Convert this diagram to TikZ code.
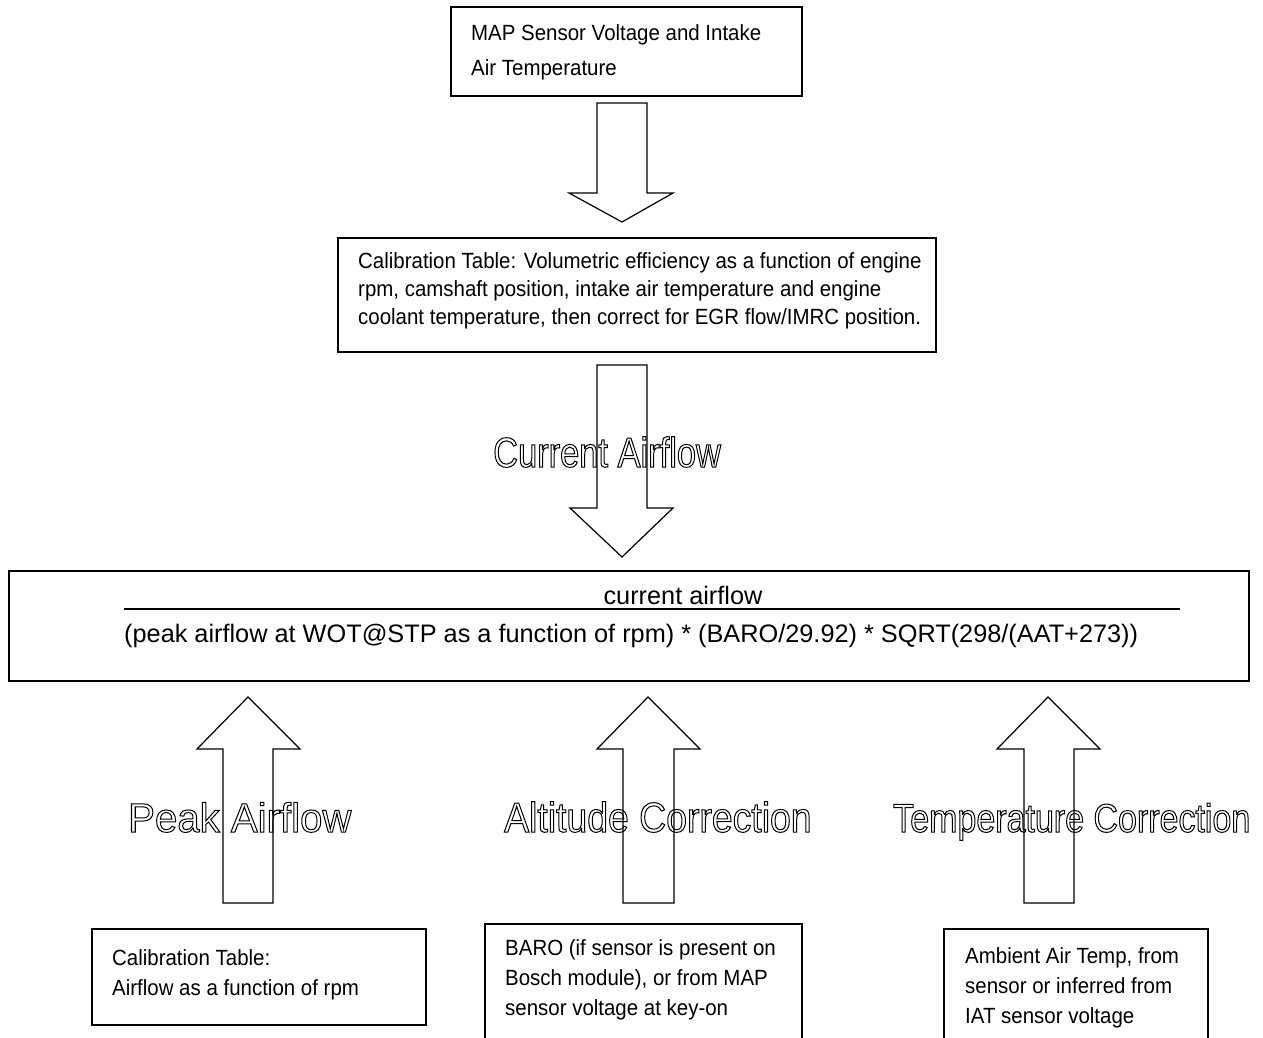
\documentclass[tikz,border=0pt]{standalone}
\usepackage{fontspec}
\setmainfont{Liberation Sans}
\newfontfamily\boxfont[FakeStretch=0.93]{Liberation Sans}
\newfontfamily\curfont[FakeStretch=0.82]{Liberation Sans}
\newfontfamily\peakfont[FakeStretch=0.98]{Liberation Sans}
\newfontfamily\altfont[FakeStretch=0.89]{Liberation Sans}
\newfontfamily\tempfont[FakeStretch=0.85]{Liberation Sans}
\newcommand{\outl}[1]{\special{pdf:literal direct 1 Tr 1.0 w}#1\special{pdf:literal direct 0 Tr}}
\begin{document}
\begin{tikzpicture}[x=1pt,y=-1pt,
  box/.style={draw=black, line width=1.8pt, inner sep=0pt, anchor=north west},
  boxtext/.style={anchor=north west, inner sep=0pt, align=left},
  blockarrow/.style={draw=black, line width=1.2pt, line join=miter},
  outlabel/.style={anchor=base west, inner sep=0pt},
  ]
\useasboundingbox (0,0) rectangle (1263,1038);
\clip (0,0) rectangle (1263,1038);
\fill[white] (0,0) rectangle (1263,1038);

% ---- boxes ----
\node[box, minimum width=351pt, minimum height=89pt] (topbox) at (450,6) {};
\node[boxtext, font=\boxfont\fontsize{22}{35}\selectfont] (toptxt) at (471,22)
  {\rule{0pt}{18pt}MAP Sensor Voltage and Intake\\Air Temperature};

\node[box, minimum width=598pt, minimum height=114pt] (midbox) at (337,237) {};
\node[boxtext, font=\boxfont\fontsize{22}{28}\selectfont] (midtxt) at (358,250)
  {\rule{0pt}{18pt}Calibration Table: Volumetric efficiency as a function of engine\\
   rpm, camshaft position, intake air temperature and engine\\
   coolant temperature, then correct for EGR flow/IMRC position.};

\node[box, minimum width=1240pt, minimum height=110pt] (bigbox) at (8,570) {};
\node[anchor=base, inner sep=0pt, font=\fontsize{25.3}{25.3}\selectfont] (num) at (683,604) {current airflow};
\coordinate (fracL) at (124,609);
\coordinate (fracR) at (1180,609);
\draw[line width=1.5pt] (fracL) -- (fracR);
\node[anchor=base west, inner sep=0pt, font=\fontsize{25.3}{25.3}\selectfont] (den) at (124,642)
  {(peak airflow at WOT@STP as a function of rpm) * (BARO/29.92) * SQRT(298/(AAT+273))};

\node[box, minimum width=334pt, minimum height=96pt] (calbox) at (91,928) {};
\node[boxtext, font=\boxfont\fontsize{22}{30}\selectfont] (caltxt) at (112,947)
  {\rule{0pt}{18pt}Calibration Table:\\Airflow as a function of rpm};

\node[box, minimum width=317pt, minimum height=140pt] (barobox) at (484,923) {};
\node[boxtext, font=\boxfont\fontsize{22}{30}\selectfont] (barotxt) at (505,937)
  {\rule{0pt}{18pt}BARO (if sensor is present on\\Bosch module), or from MAP\\sensor voltage at key-on};

\node[box, minimum width=264pt, minimum height=140pt] (aatbox) at (943,928) {};
\node[boxtext, font=\boxfont\fontsize{22}{30}\selectfont] (aattxt) at (965,945)
  {\rule{0pt}{18pt}Ambient Air Temp, from\\sensor or inferred from\\IAT sensor voltage};

% ---- block arrows ----
% top -> middle
\draw[blockarrow] (597,103) -- (647,103) -- (647,193) -- (673,193) -- (622,222)
  -- (569,193) -- (597,193) -- cycle;
% middle -> big box
\draw[blockarrow] (597,365) -- (647,365) -- (647,508) -- (673,508) -- (622,557)
  -- (570,508) -- (597,508) -- cycle;
% bottom up arrows
\draw[blockarrow] (223,903) -- (223,749) -- (197,749) -- (248,697) -- (300,749)
  -- (273,749) -- (273,903) -- cycle;
\draw[blockarrow] (623,903) -- (623,749) -- (597,749) -- (648,697) -- (700,749)
  -- (674,749) -- (674,903) -- cycle;
\draw[blockarrow] (1024,903) -- (1024,749) -- (997,749) -- (1048,697) -- (1100,749)
  -- (1074,749) -- (1074,903) -- cycle;

% ---- outline labels ----
\node[outlabel, font=\curfont\fontsize{42}{42}\selectfont] (lblcur) at (493,467) {\outl{Current Airflow}};
\node[outlabel, font=\peakfont\fontsize{41}{41}\selectfont] (lblpeak) at (128,832) {\outl{Peak Airflow}};
\node[outlabel, font=\altfont\fontsize{42}{42}\selectfont] (lblalt) at (504,832) {\outl{Altitude Correction}};
\node[outlabel, font=\tempfont\fontsize{40}{40}\selectfont] (lbltemp) at (893,832) {\outl{Temperature Correction}};
\end{tikzpicture}
\end{document}
